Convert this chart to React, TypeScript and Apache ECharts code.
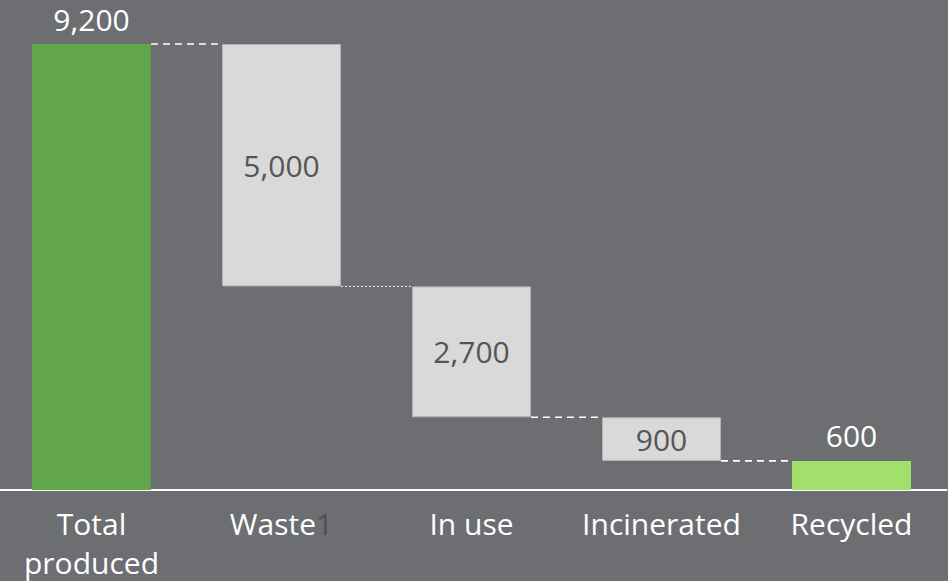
import React, { useEffect, useRef } from "react";
import * as echarts from "echarts";

const categories = ["Total\nproduced", "Waste", "In use", "Incinerated", "Recycled"];
const values = [9200, 5000, 2700, 900, 600];
const bases = [0, 4200, 1500, 600, 0];
const connectorLevels = [9200, 4200, 1500, 600];
const barColors = ["#62a64c", "#d9d9d9", "#d9d9d9", "#d9d9d9", "#a2e06b"];
const labelInside = [false, true, true, true, false];

const FONT = "'Open Sans', sans-serif";
const BAR_RATIO = 0.626;

export default function App() {
  const ref = useRef<HTMLDivElement>(null);
  useEffect(() => {
    if (!ref.current) return;
    const chart = echarts.init(ref.current, null, { renderer: "svg" });
    const txt = { color: "#ffffff", fontFamily: FONT, fontSize: 30, lineHeight: 44 };
    const option: any = {
      animation: false,
      backgroundColor: "#6d6e72",
      grid: {
        left: -3.5,
        right: 1.5,
        top: 44,
        bottom: 91,
        containLabel: false,
        outerBoundsMode: "none",
      },
      xAxis: {
        type: "category",
        data: categories,
        axisLine: { show: true, lineStyle: { color: "#ffffff", width: 2 } },
        axisTick: { show: false },
        axisLabel: {
          interval: 0,
          margin: 11,
          color: "#ffffff",
          fontFamily: FONT,
          fontSize: 30,
          lineHeight: 44,
          formatter: (v: string) => {
            if (v === "Waste") return "{w|Waste}{s|1}";
            const parts = v.split("\n");
            if (parts.length > 1) return "{w|" + parts[0] + "}\n{l|" + parts[1] + "}";
            return "{w|" + v + "}";
          },
          rich: {
            w: { ...txt },
            l: { ...txt, lineHeight: 34 },
            s: { ...txt, color: "#4d4e50" },
          },
        },
      },
      yAxis: { type: "value", min: 0, max: 9200, show: false, splitLine: { show: false } },
      series: [
        {
          type: "bar",
          stack: "w",
          barWidth: BAR_RATIO * 100 + "%",
          itemStyle: { color: "transparent" },
          emphasis: { disabled: true },
          data: bases,
          silent: true,
        },
        {
          type: "bar",
          stack: "w",
          barWidth: BAR_RATIO * 100 + "%",
          data: values.map((v, i) => ({
            value: v,
            itemStyle: {
              color: barColors[i],
              borderColor: labelInside[i] ? "#b4b4b4" : barColors[i],
              borderWidth: labelInside[i] ? 1 : 0,
            },
            label: {
              show: true,
              position: labelInside[i] ? "inside" : "top",
              distance: 10,
              color: labelInside[i] ? "#555555" : "#ffffff",
              fontFamily: FONT,
              fontSize: 30,
              formatter: (p: any) => Number(p.value).toLocaleString("en-US"),
            },
          })),
        },
        {
          type: "custom",
          silent: true,
          z: 5,
          data: connectorLevels.map((v, i) => [i, v]),
          renderItem: (params: any, api: any) => {
            const i = api.value(0);
            const y = api.value(1);
            const p1 = api.coord([i, y]);
            const p2 = api.coord([i + 1, y]);
            const band = api.size([1, 0])[0];
            const half = (band * BAR_RATIO) / 2;
            return {
              type: "line",
              shape: { x1: p1[0] + half, y1: p1[1], x2: p2[0] - half, y2: p2[1] },
              style: {
                stroke: "#ffffff",
                lineWidth: i === 1 ? 1 : 1.6,
                lineDash: i === 1 ? [2, 2] : [7, 5],
              },
            };
          },
        },
      ],
    };
    chart.setOption(option);
    return () => chart.dispose();
  }, []);
  return (
    <div
      ref={ref}
      style={{ position: "absolute", left: 0, top: 0, width: 948, height: 581 }}
    />
  );
}
